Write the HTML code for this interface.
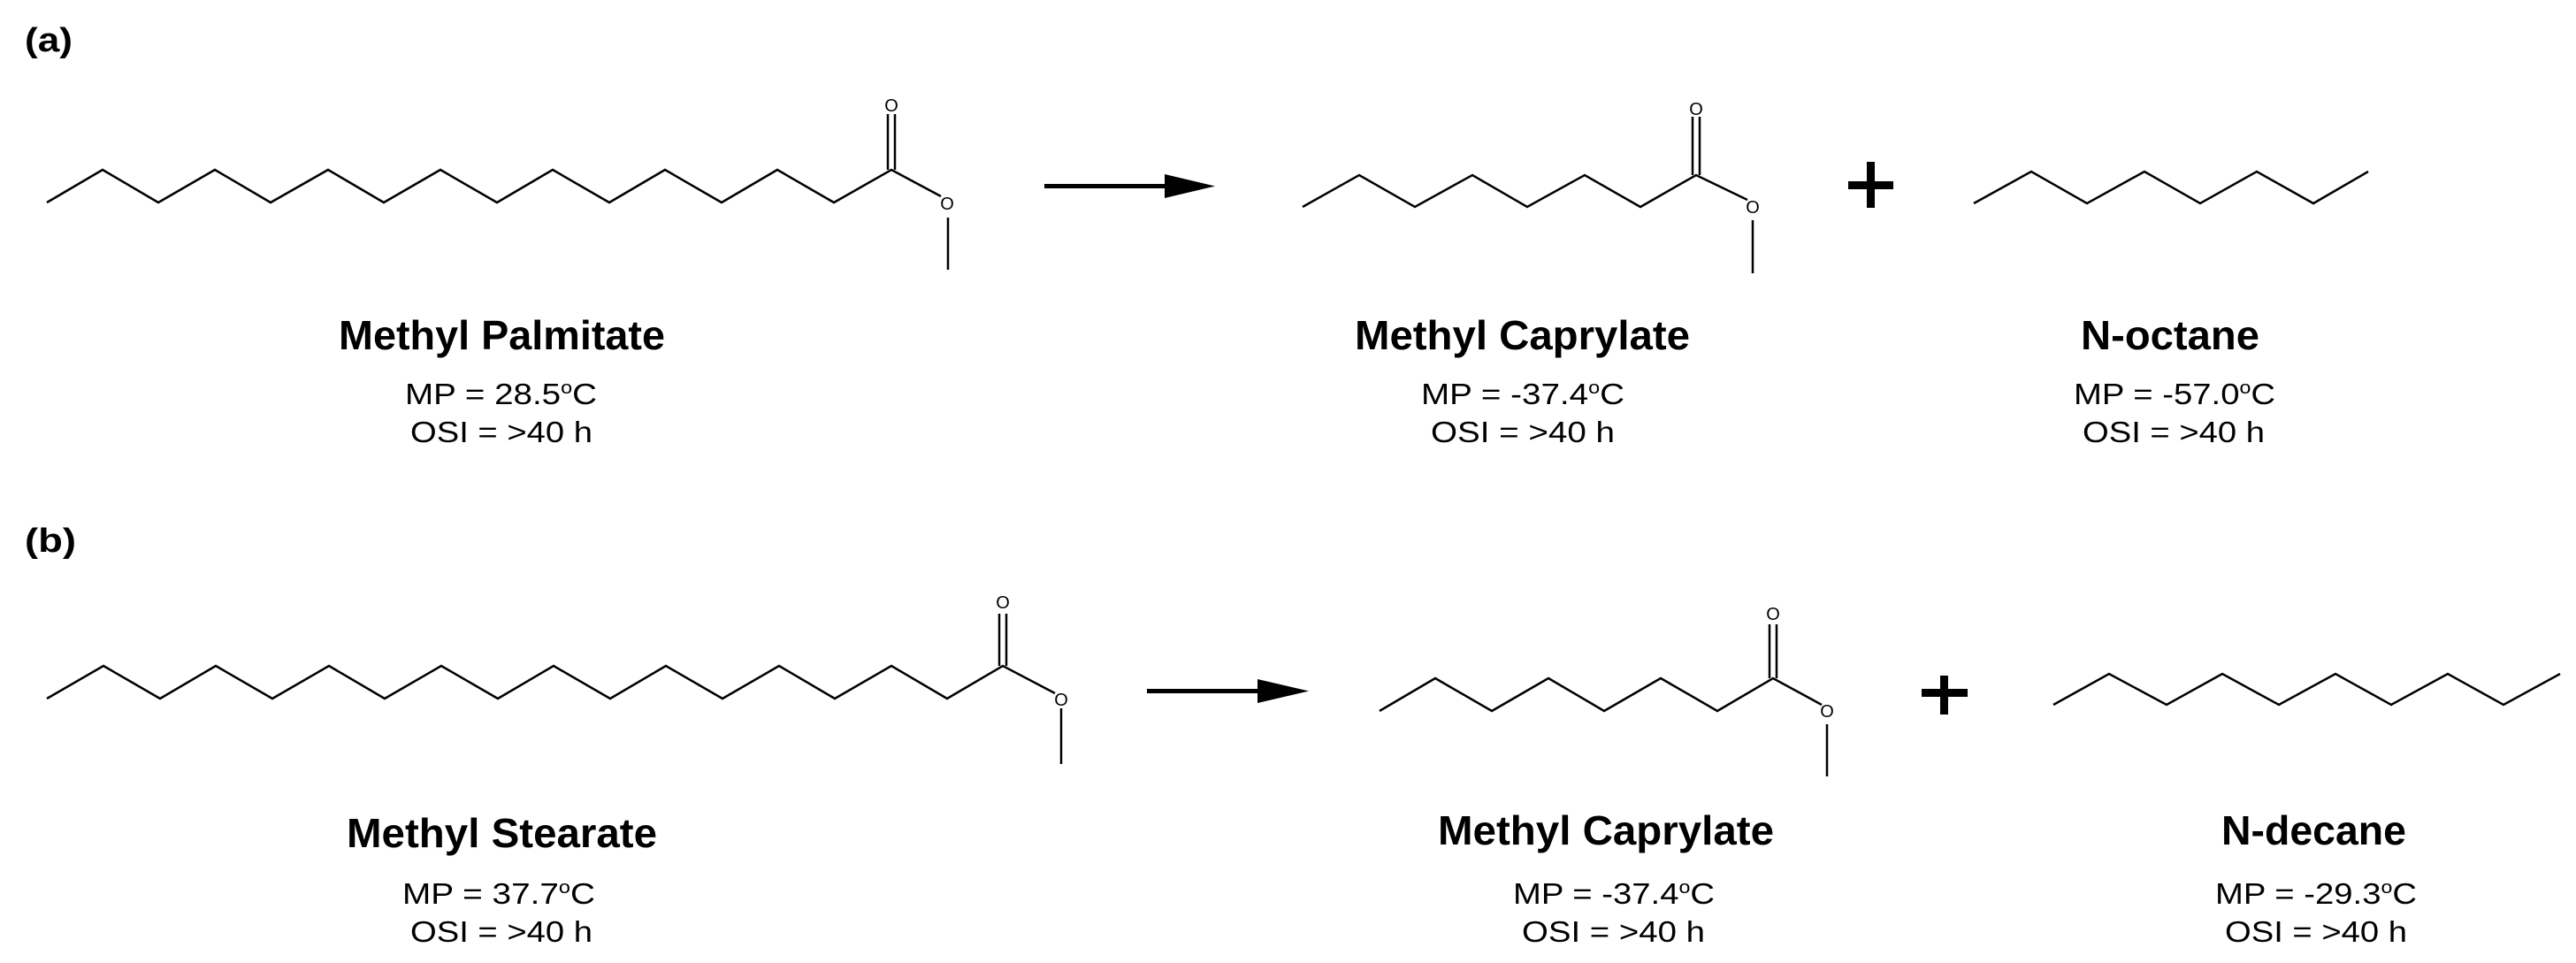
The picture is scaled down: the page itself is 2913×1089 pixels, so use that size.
<!DOCTYPE html>
<html><head><meta charset="utf-8"><style>html,body{margin:0;padding:0;background:#fff}svg{display:block}</style></head>
<body>
<svg width="2913" height="1089" viewBox="0 0 2913 1089" xmlns="http://www.w3.org/2000/svg" font-family="Liberation Sans, Arial, sans-serif">
<rect width="2913" height="1089" fill="#fff"/>
<g fill="none" stroke="#000" stroke-width="2.5" stroke-linejoin="miter">
<polyline points="53,229 116,192 179,229 243,192 306,229 371,192 434,229 498,192 562,229 625,192 689,229 752,192 816,229 879,192 943,229 1008,192 1064,222"/>
<line x1="1004" y1="192" x2="1004" y2="129"/><line x1="1012" y1="192" x2="1012" y2="129"/>
<line x1="1072" y1="246" x2="1072" y2="305"/>
<polyline points="1473,234 1537,198 1600,234 1665,198 1727,234 1792,198 1855,234 1918,198 1976,226"/>
<line x1="1914" y1="198" x2="1914" y2="132"/><line x1="1922" y1="198" x2="1922" y2="132"/>
<line x1="1982" y1="249" x2="1982" y2="309"/>
<polyline points="2232,230 2297,194 2360,230 2425,194 2488,230 2552,194 2616,230 2678,194"/>
<polyline points="53,790 117,753 181,790 244,753 308,790 372,753 435,790 499,753 563,790 626,753 690,790 753,753 817,790 881,753 944,790 1008,753 1071,790 1134,753 1193,784"/>
<line x1="1130" y1="753" x2="1130" y2="694"/><line x1="1138" y1="753" x2="1138" y2="694"/>
<line x1="1200" y1="801" x2="1200" y2="864"/>
<polyline points="1560,804 1623,767 1687,804 1751,767 1814,804 1878,767 1942,804 2005,767 2060,797"/>
<line x1="2001" y1="767" x2="2001" y2="706"/><line x1="2009" y1="767" x2="2009" y2="706"/>
<line x1="2066" y1="819" x2="2066" y2="878"/>
<polyline points="2322,797 2385,762 2450,797 2513,762 2577,797 2641,762 2704,797 2768,762 2831,797 2895,762"/>
</g>
<g font-size="20" text-anchor="middle" fill="#000">
<text x="1008" y="126">O</text><text x="1071" y="237">O</text>
<text x="1918" y="130">O</text><text x="1982" y="241">O</text>
<text x="1134" y="688">O</text><text x="1200" y="798">O</text>
<text x="2005" y="701">O</text><text x="2066" y="811">O</text>
</g>
<rect x="1181" y="208" width="140" height="5" fill="#000"/>
<polygon points="1317,197 1374,210.5 1317,224" fill="#000"/>
<rect x="1297" y="779" width="130" height="5" fill="#000"/>
<polygon points="1422,768 1480,781.5 1422,795" fill="#000"/>
<rect x="2090" y="205" width="51" height="9" fill="#000"/><rect x="2111" y="183" width="9" height="52" fill="#000"/>
<rect x="2173" y="779" width="52" height="9" fill="#000"/><rect x="2194" y="764" width="9" height="44" fill="#000"/>
<g font-weight="bold" font-size="38">
<text x="28" y="58" textLength="54" lengthAdjust="spacingAndGlyphs">(a)</text>
<text x="28" y="624" textLength="58" lengthAdjust="spacingAndGlyphs">(b)</text>
</g>
<g font-weight="bold" font-size="46">
<text x="383" y="395" textLength="369" lengthAdjust="spacingAndGlyphs">Methyl Palmitate</text>
<text x="1532" y="395" textLength="379" lengthAdjust="spacingAndGlyphs">Methyl Caprylate</text>
<text x="2353" y="395" textLength="202" lengthAdjust="spacingAndGlyphs">N-octane</text>
<text x="392" y="958" textLength="351" lengthAdjust="spacingAndGlyphs">Methyl Stearate</text>
<text x="1626" y="955" textLength="380" lengthAdjust="spacingAndGlyphs">Methyl Caprylate</text>
<text x="2512" y="955" textLength="209" lengthAdjust="spacingAndGlyphs">N-decane</text>
</g>
<g font-size="33">
<text x="458" y="457" textLength="217" lengthAdjust="spacingAndGlyphs">MP = 28.5<tspan font-size="20" dy="-12">o</tspan><tspan dy="12">C</tspan></text>
<text x="464" y="500" textLength="206" lengthAdjust="spacingAndGlyphs">OSI = &gt;40 h</text>
<text x="1607" y="457" textLength="230" lengthAdjust="spacingAndGlyphs">MP = -37.4<tspan font-size="20" dy="-12">o</tspan><tspan dy="12">C</tspan></text>
<text x="1618" y="500" textLength="208" lengthAdjust="spacingAndGlyphs">OSI = &gt;40 h</text>
<text x="2345" y="457" textLength="228" lengthAdjust="spacingAndGlyphs">MP = -57.0<tspan font-size="20" dy="-12">o</tspan><tspan dy="12">C</tspan></text>
<text x="2355" y="500" textLength="206" lengthAdjust="spacingAndGlyphs">OSI = &gt;40 h</text>
<text x="455" y="1022" textLength="218" lengthAdjust="spacingAndGlyphs">MP = 37.7<tspan font-size="20" dy="-12">o</tspan><tspan dy="12">C</tspan></text>
<text x="464" y="1065" textLength="206" lengthAdjust="spacingAndGlyphs">OSI = &gt;40 h</text>
<text x="1711" y="1022" textLength="228" lengthAdjust="spacingAndGlyphs">MP = -37.4<tspan font-size="20" dy="-12">o</tspan><tspan dy="12">C</tspan></text>
<text x="1721" y="1065" textLength="207" lengthAdjust="spacingAndGlyphs">OSI = &gt;40 h</text>
<text x="2505" y="1022" textLength="228" lengthAdjust="spacingAndGlyphs">MP = -29.3<tspan font-size="20" dy="-12">o</tspan><tspan dy="12">C</tspan></text>
<text x="2516" y="1065" textLength="206" lengthAdjust="spacingAndGlyphs">OSI = &gt;40 h</text>
</g>
</svg>
</body></html>
